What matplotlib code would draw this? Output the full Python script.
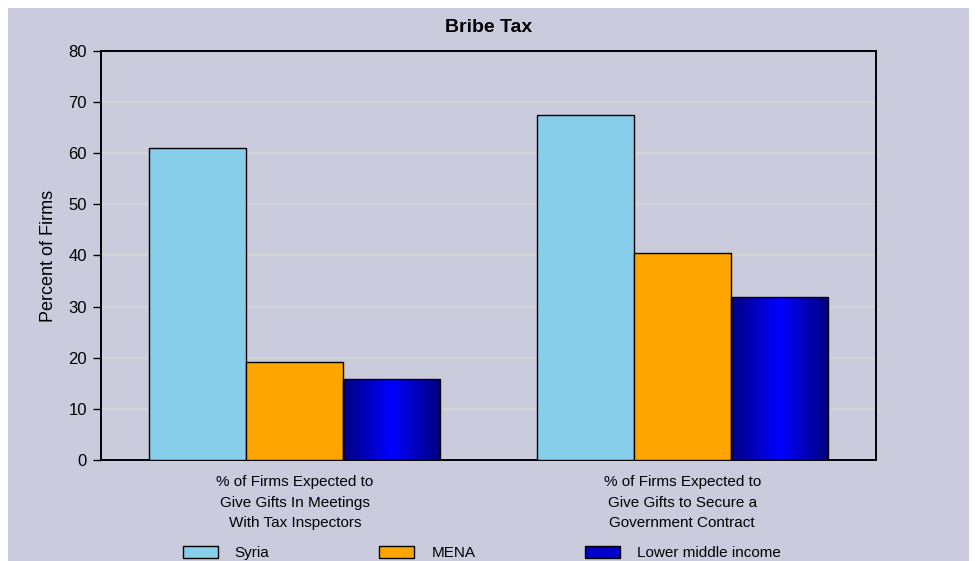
import matplotlib
matplotlib.use("Agg")
import matplotlib.pyplot as plt
import numpy as np
from matplotlib.patches import Rectangle
from matplotlib.colors import LinearSegmentedColormap

plt.rcParams['font.family'] = ['Liberation Sans', 'DejaVu Sans']

title = "Bribe Tax"
categories = ["% of Firms Expected to\nGive Gifts In Meetings\nWith Tax Inspectors",
              "% of Firms Expected to\nGive Gifts to Secure a\nGovernment Contract"]
series_names = ["Syria", "MENA", "Lower middle income"]
syria = [61.0, 67.5]
mena = [19.2, 40.4]
lmi = [15.8, 31.8]
yticks = [0, 10, 20, 30, 40, 50, 60, 70, 80]
ylabel = "Percent of Firms"

bg = '#CACCDE'
fig = plt.figure(figsize=(9.8, 5.61), dpi=100)
fig.patch.set_facecolor('white')
fig.patches.append(Rectangle((8/980, 0), (969-8)/980, 1 - 8/561, transform=fig.transFigure,
                             facecolor=bg, edgecolor='none', zorder=-10))

ax = fig.add_axes([101/980, 1-460/561, (876-101)/980, (460-51)/561])
ax.set_facecolor(bg)
x = np.arange(len(categories))
w = 0.25
b1 = ax.bar(x - w, syria, w, color='#87CEEB', edgecolor='black', linewidth=1.0, zorder=3, label=series_names[0])
b2 = ax.bar(x, mena, w, color='#FFA500', edgecolor='black', linewidth=1.0, zorder=3, label=series_names[1])
b3 = ax.bar(x + w, lmi, w, color='#0000CD', edgecolor='black', linewidth=1.0, zorder=3, label=series_names[2])

# gradient fill for third series
grad = np.linspace(-1, 1, 256)
vals = 1 - np.abs(grad)
cmap = LinearSegmentedColormap.from_list('g', ['#000080', '#0000FF'])
for p in b3.patches:
    x0, y0 = p.get_x(), p.get_y()
    im = ax.imshow(vals[np.newaxis, :], cmap=cmap, aspect='auto',
                   extent=(x0, x0 + p.get_width(), y0, y0 + p.get_height()),
                   zorder=3.5, interpolation='bilinear')
    im.set_clip_path(p)
    p.set_facecolor('none')
    p.set_zorder(4)

ax.set_xlim(-0.5, 1.5)
ax.set_ylim(0, 80)
ax.set_yticks(yticks)
ax.set_xticks(x)
ax.set_xticklabels(categories, fontsize=11, linespacing=1.6)
ax.tick_params(axis='x', length=0, pad=11)
ax.tick_params(axis='y', length=6, width=1, direction='out', labelsize=12, pad=4)
ax.yaxis.grid(True, color='#D6D6D2', linewidth=1.2, zorder=0)
ax.set_axisbelow(True)
for s in ax.spines.values():
    s.set_color('black')
    s.set_linewidth(1.4)
ax.set_ylabel(ylabel, fontsize=13, labelpad=8)
fig.text(489/980, 1-27/561, title, ha='center', va='center', fontsize=14, fontweight='bold')

leg = fig.legend(handles=[b1, b2, b3], labels=series_names, loc='center left',
                 bbox_to_anchor=(175/980, 1-553/561), ncol=3, frameon=False, borderpad=0,
                 fontsize=11, handlelength=2.3, handleheight=0.8, columnspacing=7.2,
                 handletextpad=1.1)
leg.legend_handles[2].set_facecolor('#0000CD')

fig.savefig('out.png', dpi=100, facecolor='white')
